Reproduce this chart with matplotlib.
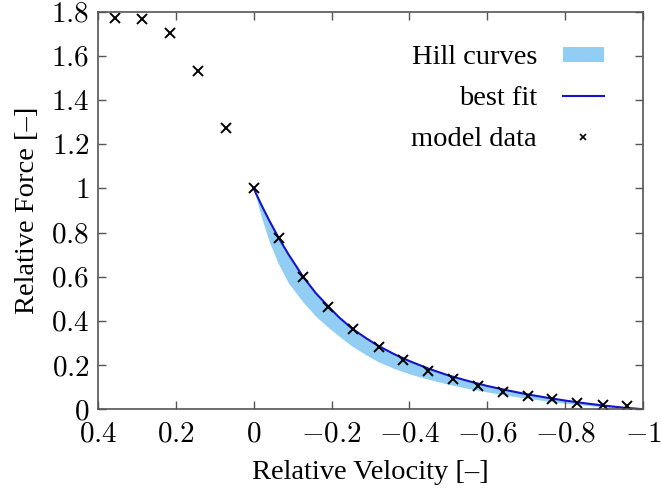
import numpy as np
import matplotlib
matplotlib.use("Agg")
import matplotlib.pyplot as plt
from matplotlib.ticker import FuncFormatter

plt.rcParams['font.family'] = ['Liberation Serif', 'DejaVu Serif']
plt.rcParams['mathtext.fontset'] = 'cm'

# model data points
model_v = [0.357, 0.286, 0.214, 0.142, 0.071, 0.0, -0.064, -0.128, -0.192, -0.256,
           -0.322, -0.384, -0.447, -0.512, -0.575, -0.639, -0.704, -0.767, -0.830,
           -0.896, -0.958]
model_f = [1.774, 1.768, 1.704, 1.534, 1.275, 1.0, 0.774, 0.600, 0.461, 0.363,
           0.283, 0.225, 0.174, 0.139, 0.106, 0.080, 0.060, 0.044, 0.030,
           0.021, 0.015]

# best fit curve and lower edge of the Hill curve band
fit_v = [0.0, -0.02, -0.04, -0.063, -0.09, -0.127, -0.16, -0.192, -0.22, -0.253,
         -0.29, -0.32, -0.36, -0.40, -0.45, -0.50, -0.55, -0.60, -0.65, -0.70,
         -0.75, -0.80, -0.85, -0.90, -0.95, -1.0]
fit_f = [1.0, 0.925, 0.855, 0.78, 0.70, 0.60, 0.525, 0.465, 0.415, 0.365,
         0.32, 0.287, 0.25, 0.218, 0.183, 0.153, 0.128, 0.105, 0.086, 0.068,
         0.053, 0.039, 0.027, 0.016, 0.007, 0.0]
hill_low = [1.0, 0.87, 0.76, 0.66, 0.57, 0.485, 0.42, 0.37, 0.33, 0.285,
            0.245, 0.215, 0.185, 0.16, 0.135, 0.113, 0.094, 0.078, 0.063, 0.05,
            0.038, 0.027, 0.018, 0.01, 0.004, 0.0]

x_ticks = [0.4, 0.2, 0, -0.2, -0.4, -0.6, -0.8, -1]
y_ticks = [0, 0.2, 0.4, 0.6, 0.8, 1, 1.2, 1.4, 1.6, 1.8]

fig = plt.figure(figsize=(6.61, 4.93), dpi=100)
ax = fig.add_axes([0.148, 0.170, 0.825, 0.806])

ax.fill_between(fit_v, hill_low, fit_f, color='#92cdf3', lw=0, label='Hill curves')
ax.plot(fit_v, fit_f, color='#1414c8', lw=1.5, label='best fit')
ax.plot(model_v, model_f, 'x', color='black', ms=7, mew=1.4, label='model data')

ax.set_xlim(0.4, -1)
ax.set_ylim(0, 1.8)
ax.set_xticks(x_ticks)
ax.set_yticks(y_ticks)

def fmt(v, pos):
    return '$%g$' % round(v, 2)

ax.xaxis.set_major_formatter(FuncFormatter(fmt))
ax.yaxis.set_major_formatter(FuncFormatter(fmt))
ax.tick_params(direction='in', length=6, width=1, top=True, right=True,
               labelsize=21, colors='#555555', labelcolor='black')
ax.tick_params(axis='x', pad=9)
ax.tick_params(axis='y', pad=6)
for sp in ax.spines.values():
    sp.set_color('#555555')
    sp.set_linewidth(1.2)

ax.set_xlabel('Relative Velocity [–]', fontsize=20.5, labelpad=9)
ax.set_ylabel('Relative Force [–]', fontsize=20.5, labelpad=8)

leg = ax.legend(loc='upper right', bbox_to_anchor=(0.975, 0.98), frameon=False,
                markerfirst=False, fontsize=20.5, handlelength=1.45,
                handleheight=0.45, labelspacing=0.55, handletextpad=0.9)
leg.legend_handles[2].set_markersize(5)
leg.legend_handles[2].set_markeredgewidth(1.2)

fig.savefig('out.png', dpi=100)
